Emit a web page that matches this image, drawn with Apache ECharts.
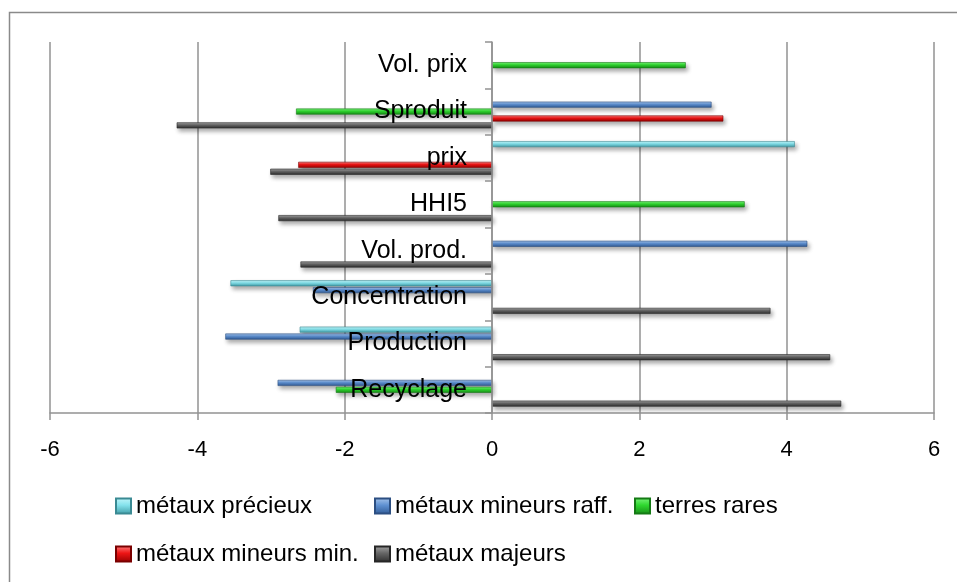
<!DOCTYPE html>
<html>
<head>
<meta charset="utf-8">
<script src="https://cdn.jsdelivr.net/npm/echarts@6/dist/echarts.min.js"></script>
<style>
html,body{margin:0;padding:0;background:#fff;}
#chart{width:957px;height:582px;}
</style>
</head>
<body>
<div id="chart"></div>
<script>
// Categories, bottom to top
const categories = ['Recyclage', 'Production', 'Concentration', 'Vol. prod.', 'HHI5', 'prix', 'Sproduit', 'Vol. prix'];
const xTicks = [-6, -4, -2, 0, 2, 4, 6];

const seriesNames = ['métaux précieux', 'métaux mineurs raff.', 'terres rares', 'métaux mineurs min.', 'métaux majeurs'];
const precieux   = [null, -2.61, -3.55, null, null, 4.11, null, null];
const mineursRaff = [-2.91, -3.62, -2.43, 4.28, null, null, 2.98, null];
const terresRares = [-2.12, null, null, null, 3.43, null, -2.66, 2.63];
const mineursMin = [null, null, null, null, null, -2.63, 3.14, null];
const majeurs    = [4.74, 4.59, 3.78, -2.60, -2.90, -3.01, -4.28, null];

const seriesData = [precieux, mineursRaff, terresRares, mineursMin, majeurs];

const palettes = [
  ['#c4f7fb', '#84e2ec', '#3f9ca6', '#3a8a93'],
  ['#a9c6ec', '#5f91d2', '#2f5a96', '#2c4f82'],
  ['#7ef57e', '#2fd82f', '#178c17', '#157a15'],
  ['#ff8080', '#ee1515', '#980000', '#7a0000'],
  ['#a6a6a6', '#666666', '#2e2e2e', '#262626']
];

function grad(p) {
  return new echarts.graphic.LinearGradient(0, 0, 0, 1, [
    {offset: 0, color: p[0]},
    {offset: 0.45, color: p[1]},
    {offset: 1, color: p[2]}
  ]);
}

const FONT = 'Liberation Sans';
const chart = echarts.init(document.getElementById('chart'), null, {renderer: 'canvas'});

const GRID_LEFT = 50, GRID_RIGHT = 23;
const plotW = 957 - GRID_LEFT - GRID_RIGHT;
const zeroOffset = -plotW * (0 - (-6)) / 12; // move category axis onto x = 0

const series = seriesNames.map((name, i) => ({
  name: name,
  type: 'bar',
  data: seriesData[i],
  barWidth: 6,
  barGap: '15%',
  itemStyle: {
    color: grad(palettes[i]),
    borderColor: palettes[i][3],
    borderWidth: 0.6,
    shadowBlur: 4,
    shadowColor: 'rgba(0,0,0,0.35)',
    shadowOffsetX: 2,
    shadowOffsetY: 3
  }
}));

const legendBase = {
  orient: 'vertical',
  top: 489,
  itemWidth: 15,
  itemHeight: 15,
  itemGap: 24,
  icon: 'rect',
  textStyle: {fontFamily: FONT, fontSize: 24, color: '#000'}
};

chart.setOption({
  animation: false,
  backgroundColor: '#fff',
  textStyle: {fontFamily: FONT},
  grid: {left: GRID_LEFT, right: GRID_RIGHT, top: 42, bottom: 169, containLabel: false, outerBoundsMode: 'none'},
  xAxis: {
    type: 'value',
    min: -6,
    max: 6,
    interval: 2,
    axisLine: {show: true, onZero: false, lineStyle: {color: '#929292', width: 1.5}},
    axisTick: {show: true, length: 7, lineStyle: {color: '#929292', width: 1.5}},
    axisLabel: {
      fontFamily: FONT, fontSize: 22, color: '#000', margin: 26,
      formatter: v => xTicks.indexOf(v) >= 0 ? String(v) : ''
    },
    splitLine: {show: true, lineStyle: {color: '#929292', width: 1.5}}
  },
  yAxis: {
    type: 'category',
    data: categories,
    z: 10,
    offset: zeroOffset,
    axisLine: {show: true, onZero: false, lineStyle: {color: '#929292', width: 1.5}},
    axisTick: {show: true, length: 7, lineStyle: {color: '#929292', width: 1.5}},
    axisLabel: {fontFamily: FONT, fontSize: 25, color: '#000', margin: 25, padding: [6, 0, 0, 0]},
    splitLine: {show: false}
  },
  legend: [
    Object.assign({}, legendBase, {left: 110, data: ['métaux précieux', 'métaux mineurs min.']}),
    Object.assign({}, legendBase, {left: 369, data: ['métaux mineurs raff.', 'métaux majeurs']}),
    Object.assign({}, legendBase, {left: 629, data: ['terres rares']})
  ],
  graphic: [{
    type: 'rect',
    silent: true,
    shape: {x: 9.5, y: 12.5, width: 1200, height: 1200},
    style: {fill: 'none', stroke: '#8a8a8a', lineWidth: 1.5}
  }],
  series: series
});
</script>
</body>
</html>
